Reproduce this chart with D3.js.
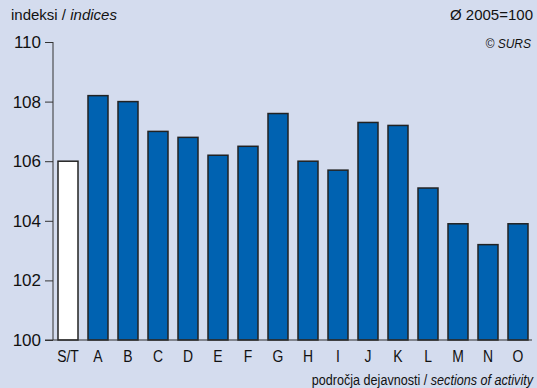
<!DOCTYPE html>
<html><head><meta charset="utf-8">
<script src="https://cdn.jsdelivr.net/npm/d3@7"></script>
<style>
html,body{margin:0;padding:0;background:#d4dcee;}
svg{display:block;}
</style></head>
<body>
<script>
const categories = ["S/T","A","B","C","D","E","F","G","H","I","J","K","L","M","N","O"];
const values = [106.0,108.2,108.0,107.0,106.8,106.2,106.5,107.6,106.0,105.7,107.3,107.2,105.1,103.9,103.2,103.9];
const yTicks = [100,102,104,106,108,110];

const W = 537, H = 388;
const svg = d3.select("body").append("svg").attr("width", W).attr("height", H);
svg.append("rect").attr("width", W).attr("height", H).attr("fill", "#d4dcee");

const x = d3.scaleBand().domain(categories).range([53, 533]).paddingInner(1/3).paddingOuter(1/6);
const y = d3.scaleLinear().domain([100, 110]).range([340, 42]);

const sans = "'Liberation Sans',Arial,Helvetica,sans-serif";

// bars
svg.append("g").selectAll("rect").data(values).join("rect")
  .attr("x", (d,i) => x(categories[i]))
  .attr("y", d => y(d))
  .attr("width", x.bandwidth())
  .attr("height", d => y(100) - y(d))
  .attr("fill", (d,i) => i === 0 ? "#ffffff" : "#0062b1")
  .attr("stroke", "#222")
  .attr("stroke-width", 1.5);

// y axis
const ya = svg.append("g").attr("transform", "translate(53,0)")
  .call(d3.axisLeft(y).tickValues(yTicks).tickSize(8).tickPadding(4));
ya.select(".domain").attr("stroke", "#333").attr("d", "M0,42V340");
ya.selectAll(".tick line").attr("stroke", "#333");
ya.selectAll(".tick text").attr("font-family", sans).attr("font-size", 17).attr("fill", "#111");

// x axis
const xa = svg.append("g").attr("transform", "translate(0,340)")
  .call(d3.axisBottom(x).tickSize(0).tickPadding(10));
xa.select(".domain").attr("stroke", "#333").attr("d", "M45,0H532");
xa.selectAll(".tick text").attr("font-family", sans).attr("font-size", 17).attr("fill", "#111")
  .attr("transform", "scale(0.82,1)");

// titles
const t1 = svg.append("text").attr("x", 11).attr("y", 20).attr("font-family", sans).attr("font-size", 15).attr("fill", "#111");
t1.append("tspan").text("indeksi / ");
t1.append("tspan").attr("font-style", "italic").text("indices");

svg.append("text").attr("x", 533).attr("y", 20).attr("text-anchor", "end")
  .attr("font-family", sans).attr("font-size", 15).attr("fill", "#111").text("Ø 2005=100");

svg.append("text").attr("x", 531).attr("y", 48).attr("text-anchor", "end")
  .attr("font-family", sans).attr("font-size", 12).attr("font-style", "italic").attr("fill", "#111").text("© SURS");

const t2 = svg.append("text").attr("transform", "translate(533,385) scale(0.84,1)")
  .attr("text-anchor", "end")
  .attr("font-family", sans).attr("font-size", 15).attr("fill", "#111");
t2.append("tspan").text("področja dejavnosti / ");
t2.append("tspan").attr("font-style", "italic").text("sections of activity");
</script>
</body></html>
